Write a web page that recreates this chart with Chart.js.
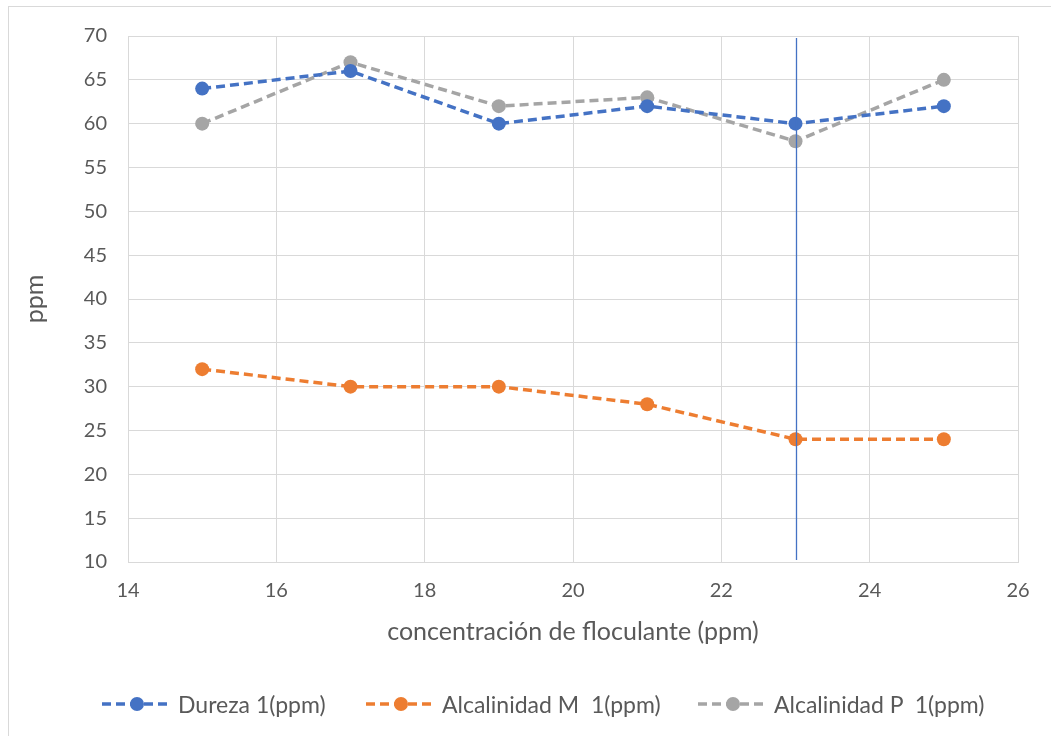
<!DOCTYPE html>
<html>
<head>
<meta charset="utf-8">
<script src="https://cdn.jsdelivr.net/npm/chart.js@4"></script>
<style>
	html, body { margin: 0; padding: 0; background: #fff; overflow: hidden; }
	#wrap { position: relative; width: 1051px; height: 736px; }
	#frame { position: absolute; left: 8px; top: 6px; width: 1100px; height: 800px; border: 1px solid #d9d9d9; }
	#chart { position: absolute; left: 0; top: 0; }
	#legend { position: absolute; left: 0; top: 690px; width: 1051px; height: 28px; font-family: Lato, "Open Sans", sans-serif; font-size: 23px; color: #595959; }
	.item { position: absolute; top: 0; display: flex; align-items: center; height: 28px; white-space: pre; }
	.item svg { margin-right: 4px; }
</style>
</head>
<body>
<div id="wrap">
	<div id="frame"></div>
	<canvas id="chart" width="1051" height="736"></canvas>
	<div id="legend"></div>
</div>
<script>
const concentracion = [15, 17, 19, 21, 23, 25];
const dureza = [64, 66, 60, 62, 60, 62];
const alcalinidadM = [32, 30, 30, 28, 24, 24];
const alcalinidadP = [60, 67, 62, 63, 58, 65];
const lineaVertical = 23;

const seriesLabels = ["Dureza 1(ppm)", "Alcalinidad M  1(ppm)", "Alcalinidad P  1(ppm)"];
const seriesColors = ["#4472C4", "#ED7D31", "#A5A5A5"];
const seriesValues = [dureza, alcalinidadM, alcalinidadP];

const textColor = "#595959";
const gridColor = "#d9d9d9";
const fontFamily = "Lato, 'Open Sans', sans-serif";

function toPoints(values) {
	return concentracion.map((x, i) => ({ x, y: values[i] }));
}

const datasets = seriesValues.map((values, i) => ({
	label: seriesLabels[i],
	data: toPoints(values),
	borderColor: seriesColors[i],
	backgroundColor: seriesColors[i],
	borderWidth: 3.5,
	borderDash: [9, 5],
	pointRadius: 7,
	pointHoverRadius: 7,
	pointBorderWidth: 0,
	showLine: true,
	fill: false,
	tension: 0,
}));

// vertical reference line at a given x value
const verticalLinePlugin = {
	id: "verticalLine",
	afterDatasetsDraw(chart) {
		const { ctx, chartArea, scales } = chart;
		const px = Math.round(scales.x.getPixelForValue(lineaVertical)) + 0.5;
		ctx.save();
		ctx.strokeStyle = "#4472C4";
		ctx.lineWidth = 1.3;
		ctx.beginPath();
		ctx.moveTo(px, chartArea.top + 2);
		ctx.lineTo(px, chartArea.bottom - 2);
		ctx.stroke();
		ctx.restore();
	},
};

const ctx = document.getElementById("chart").getContext("2d");
new Chart(ctx, {
	type: "scatter",
	data: { datasets },
	plugins: [verticalLinePlugin],
	options: {
		responsive: false,
		animation: false,
		layout: { padding: { left: 20, top: 36, right: 33, bottom: 89 } },
		plugins: {
			legend: { display: false },
			tooltip: { enabled: false },
		},
		scales: {
			x: {
				type: "linear",
				min: 14,
				max: 26,
				afterFit(scale) { scale.height = 85; },
				ticks: {
					stepSize: 2,
					color: textColor,
					padding: 17,
					font: { family: fontFamily, size: 20 },
				},
				grid: { color: gridColor, lineWidth: 1, tickLength: 0 },
				border: { color: gridColor },
				title: {
					display: true,
					text: "concentración de floculante (ppm)",
					color: textColor,
					padding: 0,
					font: { family: fontFamily, size: 25 },
				},
			},
			y: {
				type: "linear",
				min: 10,
				max: 70,
				afterFit(scale) { scale.width = 108; },
				ticks: {
					stepSize: 5,
					color: textColor,
					padding: 21,
					font: { family: fontFamily, size: 20 },
				},
				grid: { color: gridColor, lineWidth: 1, tickLength: 0 },
				border: { color: gridColor },
				title: {
					display: true,
					text: "ppm",
					color: textColor,
					padding: 0,
					font: { family: fontFamily, size: 25 },
				},
			},
		},
	},
});

// legend built as html: dashed line with a marker, then the label
const legendEl = document.getElementById("legend");
const legendLefts = [100, 364, 696];
seriesLabels.forEach((label, i) => {
	const item = document.createElement("div");
	item.className = "item";
	item.style.left = legendLefts[i] + "px";
	const c = seriesColors[i];
	item.innerHTML =
		`<svg width="74" height="16"><line x1="2" y1="8" x2="72" y2="8" stroke="${c}" stroke-width="3.5" stroke-dasharray="9 5"/>` +
		`<circle cx="37" cy="8" r="7" fill="${c}"/></svg>`;
	const span = document.createElement("span");
	span.textContent = label;
	item.appendChild(span);
	legendEl.appendChild(item);
});
</script>
</body>
</html>
